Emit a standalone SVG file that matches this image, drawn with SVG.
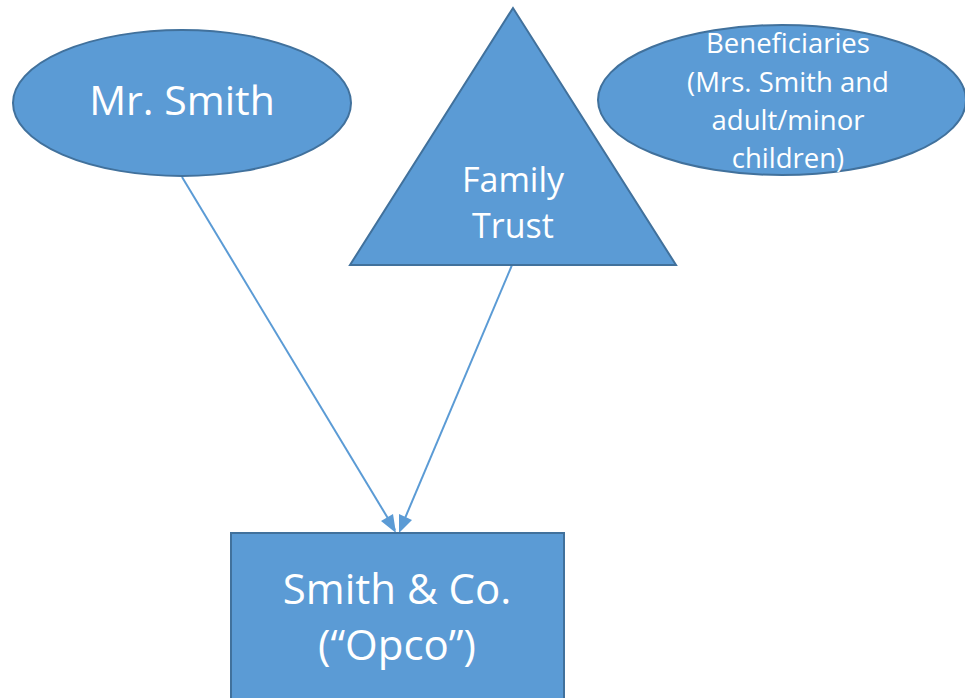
<svg xmlns="http://www.w3.org/2000/svg" width="965" height="698" viewBox="0 0 965 698">
<style>
.shape{fill:#5B9BD5;stroke:#41719C;stroke-width:2}
.lbl{fill:#FFFFFF;font-family:"Open Sans","Liberation Sans",sans-serif;text-anchor:middle}
.conn{stroke:#5B9BD5;stroke-width:2;fill:none}
.head{fill:#5B9BD5}
</style>
<rect width="965" height="698" fill="#FFFFFF"/>
<g id="connectors">
<line class="conn" x1="182" y1="177" x2="395" y2="530"/>
<polygon class="head" points="396,533 381,521 393,514"/>
<line class="conn" x1="512" y1="265" x2="400" y2="530"/>
<polygon class="head" points="399,533 399,514 412,520"/>
</g>
<g id="mr-smith">
<ellipse class="shape" cx="182" cy="103" rx="169" ry="73"/>
<text class="lbl" x="182" y="115" font-size="41">Mr. Smith</text>
</g>
<g id="family-trust">
<polygon class="shape" points="513,8 350,265 676,265"/>
<text class="lbl" x="513" y="192" font-size="34">Family</text>
<text class="lbl" x="513" y="238" font-size="34">Trust</text>
</g>
<g id="beneficiaries">
<ellipse class="shape" cx="782" cy="100" rx="184" ry="75"/>
<text class="lbl" x="788" y="53" font-size="27.5">Beneficiaries</text>
<text class="lbl" x="788" y="92" font-size="27.5">(Mrs. Smith and</text>
<text class="lbl" x="788" y="130" font-size="27.5">adult/minor</text>
<text class="lbl" x="788" y="168" font-size="27.5">children)</text>
</g>
<g id="opco">
<rect class="shape" x="231" y="533" width="333" height="175"/>
<text class="lbl" x="397" y="604" font-size="42">Smith &amp; Co.</text>
<text class="lbl" x="397" y="660" font-size="42">(“Opco”)</text>
</g>
</svg>
